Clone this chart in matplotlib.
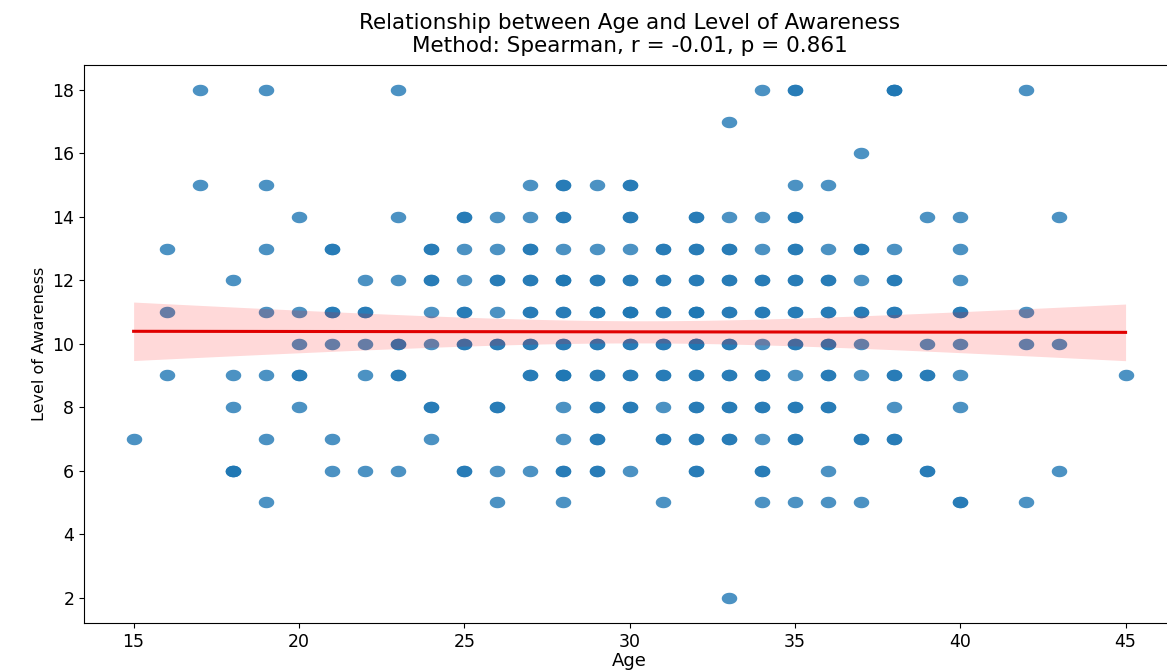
import numpy as np
import matplotlib
matplotlib.use("Agg")
import matplotlib.pyplot as plt
from matplotlib.path import Path

# survey responses grouped by age; repeated scores are respondents with the same answer
ages = [15, 16, 17, 18, 19, 20, 21, 22, 23, 24, 25, 26, 27, 28, 29, 30,
        31, 32, 33, 34, 35, 36, 37, 38, 39, 40, 42, 43, 45]
scores = [
    [7],
    [13, 11, 9],
    [18, 15],
    [12, 9, 8, 6, 6, 6],
    [18, 15, 13, 11, 9, 7, 5],
    [14, 11, 10, 9, 9, 8],
    [13, 13, 11, 11, 10, 7, 6],
    [12, 11, 11, 10, 9, 6],
    [18, 14, 12, 10, 10, 9, 9, 6],
    [13, 13, 12, 12, 11, 10, 8, 8, 7],
    [14, 14, 13, 12, 11, 11, 10, 10, 6, 6],
    [14, 13, 12, 12, 11, 10, 10, 8, 8, 6, 5],
    [15, 14, 13, 13, 12, 12, 11, 11, 10, 10, 9, 9, 6],
    [15, 15, 14, 14, 13, 12, 12, 12, 11, 11, 10, 10, 9, 9, 9, 8, 7, 6, 6, 5],
    [15, 13, 12, 12, 11, 11, 11, 10, 10, 9, 9, 8, 8, 7, 7, 6, 6],
    [15, 15, 14, 14, 13, 12, 12, 11, 11, 11, 10, 10, 9, 9, 8, 8, 6],
    [13, 13, 12, 12, 11, 11, 10, 10, 9, 9, 8, 7, 7, 5],
    [14, 14, 13, 13, 12, 12, 11, 11, 11, 10, 10, 10, 9, 9, 8, 8, 7, 7, 6, 6],
    [17, 14, 13, 13, 12, 12, 11, 11, 10, 10, 9, 9, 8, 8, 7, 7, 2],
    [18, 14, 13, 12, 12, 11, 11, 10, 9, 9, 8, 8, 7, 6, 6, 5],
    [18, 18, 15, 14, 14, 13, 13, 12, 12, 11, 11, 10, 10, 9, 8, 8, 7, 7, 5],
    [15, 13, 12, 12, 11, 11, 10, 10, 9, 9, 8, 8, 6, 5],
    [16, 13, 13, 12, 11, 11, 10, 9, 7, 7, 5],
    [18, 18, 18, 13, 12, 12, 11, 11, 9, 9, 8, 7, 7],
    [14, 10, 9, 9, 6, 6],
    [14, 13, 12, 11, 11, 10, 9, 8, 5, 5],
    [18, 11, 10, 5],
    [14, 10, 6],
    [9],
]

x = np.concatenate([[a] * len(s) for a, s in zip(ages, scores)]).astype(float)
y = np.concatenate(scores).astype(float)

# ordinary least squares fit with a 95% confidence band for the mean
n = len(x)
slope, intercept = np.polyfit(x, y, 1)
resid = y - (slope * x + intercept)
s_err = np.sqrt(np.sum(resid ** 2) / (n - 2))
grid = np.linspace(x.min(), x.max(), 100)
fit = slope * grid + intercept
se = s_err * np.sqrt(1 / n + (grid - x.mean()) ** 2 / np.sum((x - x.mean()) ** 2))
ci = 1.96 * se

# slightly flattened dot marker
t = np.linspace(0, 2 * np.pi, 40)
dot = Path(np.column_stack([np.cos(t), 0.74 * np.sin(t)]), closed=True)

fig = plt.figure(figsize=(11.67, 6.72), dpi=100)
ax = fig.add_axes([0.072, 0.073, 0.935, 0.831])

ax.scatter(x, y, s=125, marker=dot, color="#1f77b4", alpha=0.8, linewidths=0)
ax.plot(grid, fit, color="#e00000", lw=2.2)
ax.fill_between(grid, fit - ci, fit + ci, color="red", alpha=0.15, linewidth=0)

ax.set_xlim(13.5, 46.5)
ax.set_ylim(1.2, 18.8)
ax.set_xticks([15, 20, 25, 30, 35, 40, 45])
ax.set_yticks(range(2, 19, 2))
ax.tick_params(labelsize=12.5)

ax.set_title("Relationship between Age and Level of Awareness\n"
             "Method: Spearman, r = -0.01, p = 0.861", fontsize=15.5, pad=9,
             linespacing=1.2)
ax.set_xlabel("Age", fontsize=13, labelpad=1)
ax.set_ylabel("Level of Awareness", fontsize=11.5)

fig.savefig("out.png", dpi=100)
